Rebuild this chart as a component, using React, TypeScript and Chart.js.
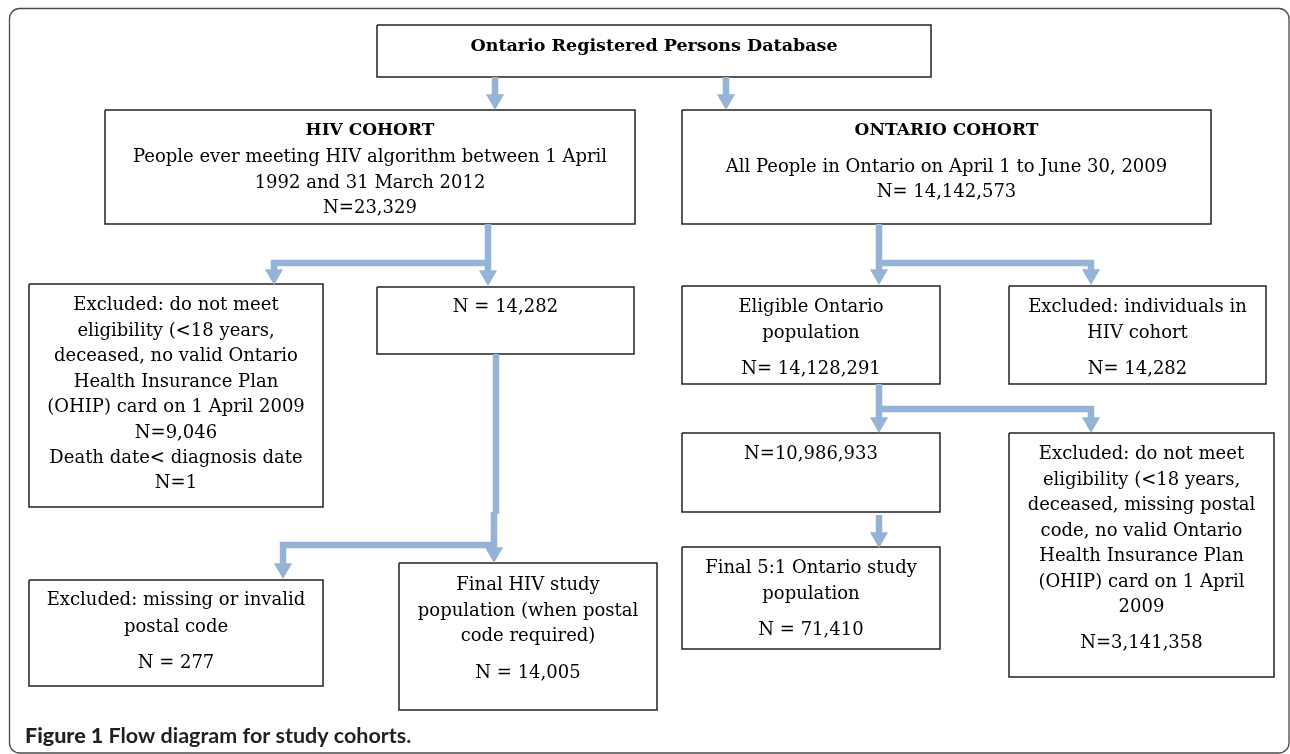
import React, { useEffect, useRef } from "react";
import { Chart, registerables } from "chart.js";

Chart.register(...registerables);

// ---------- Text content (data) ----------
const topBoxText = ["Ontario Registered Persons Database"];
const hivCohortText = [
  "HIV COHORT",
  "People ever meeting HIV algorithm between 1 April",
  "1992 and 31 March 2012",
  "N=23,329",
];
const ontarioCohortText = [
  "ONTARIO COHORT",
  "All People in Ontario on April 1 to June 30, 2009",
  "N= 14,142,573",
];
const hivExcludedText = [
  "Excluded: do not meet",
  "eligibility (<18 years,",
  "deceased, no valid Ontario",
  "Health Insurance Plan",
  "(OHIP) card on 1 April 2009",
  "N=9,046",
  "Death date< diagnosis date",
  "N=1",
];
const hivEligibleText = ["N = 14,282"];
const ontEligibleText = ["Eligible Ontario", "population", "N= 14,128,291"];
const ontExcludedHivText = ["Excluded: individuals in", "HIV cohort", "N= 14,282"];
const ontSubsetText = ["N=10,986,933"];
const ontExcludedText = [
  "Excluded: do not meet",
  "eligibility (<18 years,",
  "deceased, missing postal",
  "code, no valid Ontario",
  "Health Insurance Plan",
  "(OHIP) card on 1 April",
  "2009",
  "N=3,141,358",
];
const ontFinalText = ["Final 5:1 Ontario study", "population", "N = 71,410"];
const hivPostalExcludedText = ["Excluded: missing or invalid", "postal code", "N = 277"];
const hivFinalText = ["Final HIV study", "population (when postal", "code required)", "N = 14,005"];
const captionBold = "Figure 1";
const captionRest = " Flow diagram for study cohorts.";

// ---------- Layout (diagram coordinates, 1 unit = 1 px) ----------
type Box = { x1: number; y1: number; x2: number; y2: number; lines: string[]; ys: number[]; boldFirst?: boolean; titleSize?: number };

const boxes: Box[] = [
  { x1: 377, y1: 25, x2: 931, y2: 77, lines: topBoxText, ys: [46], boldFirst: true, titleSize: 17.5 },
  { x1: 105, y1: 110, x2: 635, y2: 224, lines: hivCohortText, ys: [131, 157, 183, 208], boldFirst: true },
  { x1: 682, y1: 110, x2: 1211, y2: 224, lines: ontarioCohortText, ys: [131, 167, 192], boldFirst: true },
  { x1: 29, y1: 284, x2: 323, y2: 507, lines: hivExcludedText, ys: [305, 331, 356, 382, 407, 433, 458, 483] },
  { x1: 377, y1: 287, x2: 634, y2: 354, lines: hivEligibleText, ys: [307] },
  { x1: 682, y1: 286, x2: 940, y2: 384, lines: ontEligibleText, ys: [307, 333, 369] },
  { x1: 1009, y1: 286, x2: 1266, y2: 384, lines: ontExcludedHivText, ys: [307, 333, 369] },
  { x1: 682, y1: 433, x2: 940, y2: 512, lines: ontSubsetText, ys: [454] },
  { x1: 1009, y1: 433, x2: 1274, y2: 677, lines: ontExcludedText, ys: [454, 480, 505, 531, 556, 582, 607, 643] },
  { x1: 682, y1: 547, x2: 940, y2: 649, lines: ontFinalText, ys: [568, 594, 630] },
  { x1: 29, y1: 580, x2: 323, y2: 686, lines: hivPostalExcludedText, ys: [600, 627, 663] },
  { x1: 399, y1: 563, x2: 657, y2: 710, lines: hivFinalText, ys: [585, 611, 636, 673] },
];

// connector polylines (shaft centre lines)
const connectors: number[][][] = [
  [[495, 77], [495, 100]],
  [[726, 77], [726, 100]],
  [[488, 224], [488, 276]],
  [[491, 263], [274, 263], [274, 276]],
  [[879, 224], [879, 276]],
  [[882, 263], [1091, 263], [1091, 276]],
  [[879, 384], [879, 424]],
  [[882, 409], [1091, 409], [1091, 424]],
  [[879, 515], [879, 539]],
  [[496, 354], [496, 514]],
  [[494, 512], [494, 554]],
  [[497, 545], [283, 545], [283, 569]],
];

// arrow tips
const arrowTips: number[][] = [
  [495, 110], [726, 110],
  [488, 286], [274, 285],
  [879, 285], [1091, 285],
  [879, 433], [1091, 433],
  [879, 548],
  [494, 563], [283, 579],
];

const ARROW = "#95b3d7";
const BORDER = "#222222";
const HEAD_R = 10.5;

const diagramPlugin = {
  id: "diagramDecor",
  beforeDatasetsDraw(chart: any) {
    const { ctx, scales } = chart;
    const xs = scales.x, ys = scales.y;
    const x1 = xs.getPixelForValue(9.5), y1 = ys.getPixelForValue(8.5);
    const x2 = xs.getPixelForValue(1289), y2 = ys.getPixelForValue(753);
    ctx.save();
    ctx.strokeStyle = "#4a4a4a";
    ctx.lineWidth = 1.3;
    ctx.beginPath();
    (ctx as any).roundRect(x1, y1, x2 - x1, y2 - y1, 10);
    ctx.stroke();
    ctx.restore();
  },
  afterDatasetsDraw(chart: any) {
    const { ctx, scales } = chart;
    const xs = scales.x, ys = scales.y;
    ctx.save();
    ctx.fillStyle = "#000";
    ctx.textAlign = "center";
    ctx.textBaseline = "middle";
    boxes.forEach((b) => {
      const cx = xs.getPixelForValue((b.x1 + b.x2) / 2);
      b.lines.forEach((t, i) => {
        ctx.font = b.boldFirst && i === 0 ? `bold ${b.titleSize || 17}px 'DejaVu Serif'` : "18px 'DejaVu Serif'";
        ctx.fillText(t, cx, ys.getPixelForValue(b.ys[i]));
      });
    });
    ctx.textAlign = "left";
    ctx.textBaseline = "alphabetic";
    ctx.fillStyle = "#231f20";
    const capX = xs.getPixelForValue(25), capY = ys.getPixelForValue(743);
    ctx.font = "900 21.5px Lato";
    ctx.fillText(captionBold, capX, capY);
    const w = ctx.measureText(captionBold).width;
    ctx.font = "bold 21.5px Lato";
    ctx.fillText(captionRest, capX + w, capY);
    ctx.restore();
  },
};

export default function App() {
  const ref = useRef<HTMLCanvasElement | null>(null);
  useEffect(() => {
    if (!ref.current) return;
    const datasets: any[] = [];
    connectors.forEach((c) => {
      datasets.push({
        data: c.map(([x, y]) => ({ x, y })),
        showLine: true,
        borderColor: ARROW,
        borderWidth: 6.5,
        borderJoinStyle: "miter",
        borderCapStyle: "butt",
        pointRadius: 0,
        fill: false,
        tension: 0,
      });
    });
    datasets.push({
      data: arrowTips.map(([x, y]) => ({ x, y: y - HEAD_R })),
      showLine: false,
      pointStyle: "triangle",
      pointRotation: 180,
      pointRadius: HEAD_R,
      pointBackgroundColor: ARROW,
      pointBorderWidth: 0,
      pointBorderColor: ARROW,
    });
    boxes.forEach((b) => {
      datasets.push({
        data: [
          { x: b.x1, y: b.y1 },
          { x: b.x2, y: b.y1 },
          { x: b.x2, y: b.y2 },
          { x: b.x1, y: b.y2 },
          { x: b.x1, y: b.y1 },
        ],
        showLine: true,
        borderColor: BORDER,
        borderWidth: 1.5,
        borderJoinStyle: "miter",
        pointRadius: 0,
        fill: false,
        tension: 0,
      });
    });
    const chart = new Chart(ref.current, {
      type: "scatter",
      data: { datasets },
      options: {
        animation: false,
        responsive: false,
        events: [],
        layout: { padding: 0, autoPadding: false },
        plugins: { legend: { display: false }, tooltip: { enabled: false }, title: { display: false } },
        scales: {
          x: { type: "linear", min: 0, max: 1290, display: false },
          y: { type: "linear", min: 0, max: 754, reverse: true, display: false },
        },
      },
      plugins: [diagramPlugin],
    });
    return () => chart.destroy();
  }, []);
  return (
    <div style={{ position: "absolute", left: 0, top: 0, width: 1290, height: 754, background: "#fff" }}>
      <canvas ref={ref} width={1290} height={754} style={{ display: "block" }} />
    </div>
  );
}
